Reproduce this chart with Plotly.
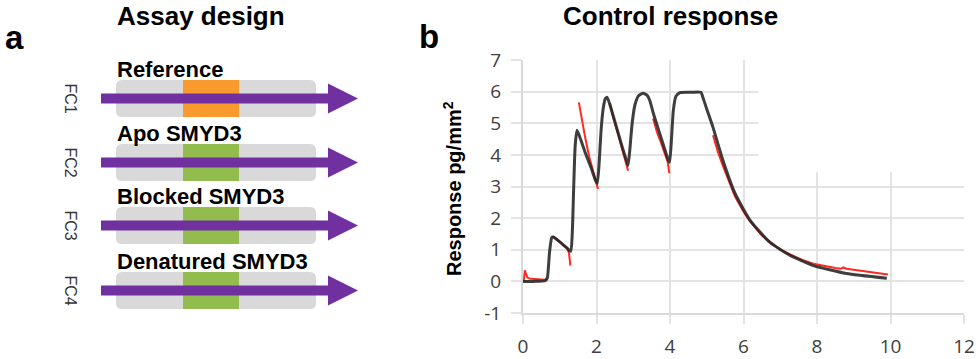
import plotly.graph_objects as go

# ---------------- data ----------------
# Panel b: fitted curve (black) - time (x) vs response (pg/mm^2)
fit_t = [0.00, 0.30, 0.60, 0.66, 0.72, 0.78, 0.82, 1.00, 1.20, 1.30, 1.34, 1.38, 1.42, 1.47,
         1.55, 1.70, 1.85, 1.97, 2.02, 2.07, 2.12, 2.18, 2.24, 2.29, 2.40, 2.55, 2.70, 2.82,
         2.86, 2.91, 2.97, 3.05, 3.15, 3.27, 3.38, 3.45, 3.55, 3.70, 3.85, 3.95, 3.99, 4.04,
         4.09, 4.16, 4.27, 4.60, 4.84, 4.90, 5.00, 5.17, 5.44, 5.77, 6.18, 6.72, 7.27, 7.90,
         8.80, 9.90]
fit_y = [0.00, 0.00, 0.02, 0.10, 0.90, 1.38, 1.40, 1.25, 1.05, 0.95, 1.50, 3.00, 4.30, 4.78,
         4.55, 4.05, 3.60, 3.20, 3.10, 3.70, 4.70, 5.45, 5.78, 5.82, 5.45, 4.85, 4.25, 3.80,
         3.67, 4.20, 5.00, 5.60, 5.88, 5.95, 5.88, 5.72, 5.30, 4.75, 4.20, 3.85, 3.77, 4.50,
         5.40, 5.85, 5.97, 5.98, 5.98, 5.80, 5.45, 4.87, 3.83, 2.78, 1.93, 1.23, 0.82, 0.50,
         0.25, 0.10]

# Panel b: measured response (red), gaps during injections
data_t = [0.02, 0.05, 0.08, 0.12, 0.20, 0.40, 0.60, 0.65, None,
          0.80, 0.90, 1.00, 1.10, 1.20, 1.25, 1.27, 1.29, None,
          1.52, 1.60, 1.70, 1.80, 1.90, 1.97, 2.02, 2.04, None,
          2.37, 2.45, 2.55, 2.65, 2.75, 2.82, 2.86, None,
          3.54, 3.65, 3.75, 3.85, 3.93, 3.96, 3.98, None,
          5.17, 5.30, 5.44, 5.60, 5.77, 6.00, 6.18, 6.50, 6.72, 7.00, 7.27, 7.60, 7.90,
          8.20, 8.50, 8.65, 8.72, 8.80, 9.20, 9.60, 9.93]
data_y = [0.00, 0.35, 0.25, 0.12, 0.08, 0.06, 0.05, 0.08, None,
          1.42, 1.35, 1.25, 1.15, 1.05, 0.90, 0.70, 0.50, None,
          5.66, 5.10, 4.50, 3.95, 3.50, 3.20, 3.00, 2.92, None,
          5.63, 5.20, 4.80, 4.40, 4.00, 3.72, 3.50, None,
          5.15, 4.70, 4.40, 4.05, 3.80, 3.60, 3.42, None,
          4.62, 4.10, 3.65, 3.15, 2.68, 2.20, 1.90, 1.45, 1.25, 1.00, 0.85, 0.68, 0.56,
          0.48, 0.42, 0.40, 0.44, 0.40, 0.33, 0.27, 0.22]

x_ticks = [0, 2, 4, 6, 8, 10, 12]
y_ticks = [-1, 0, 1, 2, 3, 4, 5, 6, 7]

# Panel a: assay design rows
flow_cells = ["FC1", "FC2", "FC3", "FC4"]
row_labels = ["Reference", "Apo SMYD3", "Blocked SMYD3", "Denatured SMYD3"]
block_colors = ["#f89a2e", "#92bd4e", "#92bd4e", "#92bd4e"]

# ---------------- styles / layout constants ----------------
W, H = 980, 359
GRID = "#e3e3e3"
TICKFONT = dict(family="Open Sans", size=19, color="#404040")
BOLD = "Liberation Sans"

row_tops = [80, 144, 207, 272]   # pixel layout of diagram rows
ROW_H = 37

fig = go.Figure()

fig.add_trace(go.Scatter(x=data_t, y=data_y, mode="lines",
                         line=dict(color="#ff2a1f", width=2),
                         connectgaps=False, showlegend=False, hoverinfo="skip"))
fig.add_trace(go.Scatter(x=fit_t, y=fit_y, mode="lines",
                         line=dict(color="rgba(35,35,35,0.88)", width=3,
                                   shape="spline", smoothing=0.5),
                         showlegend=False, hoverinfo="skip"))
# helper overlay axes in pixel units for the diagram
fig.add_trace(go.Scatter(x=[None], y=[None], xaxis="x2", yaxis="y2",
                         showlegend=False, hoverinfo="skip"))

shapes = []
# white mask over upper-right grid region (as in reference)
shapes.append(dict(type="rect", xref="x", yref="y", x0=6.4, x1=12.6, y0=3.45, y1=7.6,
                   fillcolor="white", line=dict(width=0), layer="between"))


def rrect(x0, y0, x1, y1, r):
    return (f"M {x0+r},{y0} L {x1-r},{y0} Q {x1},{y0} {x1},{y0+r} L {x1},{y1-r} "
            f"Q {x1},{y1} {x1-r},{y1} L {x0+r},{y1} Q {x0},{y1} {x0},{y1-r} "
            f"L {x0},{y0+r} Q {x0},{y0} {x0+r},{y0} Z")


annotations = []
for fc, lab, col, top in zip(flow_cells, row_labels, block_colors, row_tops):
    bot = top + ROW_H
    c = (top + bot) / 2
    shapes.append(dict(type="path", xref="x2", yref="y2", path=rrect(116, top, 316, bot, 6),
                       fillcolor="#d9d9d9", line=dict(width=0)))
    shapes.append(dict(type="rect", xref="x2", yref="y2", x0=183, x1=239, y0=top, y1=bot,
                       fillcolor=col, line=dict(width=0)))
    arrow = (f"M 101,{c-5} L 328,{c-5} L 328,{c-15} L 358,{c} L 328,{c+15} "
             f"L 328,{c+5} L 101,{c+5} Z")
    shapes.append(dict(type="path", xref="x2", yref="y2", path=arrow,
                       fillcolor="#7030a0", line=dict(width=0)))
    annotations.append(dict(xref="x2", yref="y2", x=115, y=top - 11, text=lab,
                            xanchor="left", yanchor="middle", showarrow=False,
                            font=dict(family=BOLD, size=22, color="black", weight="bold")))
    annotations.append(dict(xref="x2", yref="y2", x=70, y=c, text=fc, textangle=90,
                            xanchor="center", yanchor="middle", showarrow=False,
                            font=dict(family="Liberation Sans", size=16, color="#333333")))

annotations += [
    dict(xref="x2", yref="y2", x=201, y=16, text="Assay design", showarrow=False,
         xanchor="center", yanchor="middle",
         font=dict(family=BOLD, size=26, color="black", weight="bold")),
    dict(xref="x2", yref="y2", x=670, y=16, text="Control response", showarrow=False,
         xanchor="center", yanchor="middle",
         font=dict(family=BOLD, size=26, color="black", weight="bold")),
    dict(xref="x2", yref="y2", x=14, y=37, text="a", showarrow=False,
         xanchor="center", yanchor="middle",
         font=dict(family=BOLD, size=33, color="black", weight="bold")),
    dict(xref="x2", yref="y2", x=429, y=36, text="b", showarrow=False,
         xanchor="center", yanchor="middle",
         font=dict(family=BOLD, size=33, color="black", weight="bold")),
    dict(xref="x2", yref="y2", x=452, y=189, text="Response pg/mm<sup>2</sup>",
         textangle=-90, showarrow=False, xanchor="center", yanchor="middle",
         font=dict(family=BOLD, size=20, color="black", weight="bold")),
]

fig.update_layout(
    width=W, height=H, autosize=False,
    margin=dict(l=0, r=0, t=0, b=0, pad=0, autoexpand=False),
    paper_bgcolor="white", plot_bgcolor="rgba(0,0,0,0)",
    showlegend=False,
    xaxis=dict(domain=[523 / W, 964 / W], anchor="y", range=[0, 12], automargin=False,
               tickvals=x_ticks, ticktext=[str(v) for v in x_ticks],
               showgrid=True, gridcolor=GRID, gridwidth=2, zeroline=False,
               showline=True, linecolor="#dadada", linewidth=2,
               ticks="outside", ticklen=9, tickwidth=2, tickcolor=GRID,
               ticklabelstandoff=6, tickfont=TICKFONT),
    yaxis=dict(domain=[(H - 313) / H, (H - 60) / H], anchor="x", range=[-1, 7],
               automargin=False,
               tickvals=y_ticks, ticktext=[str(v) for v in y_ticks],
               showgrid=True, gridcolor=GRID, gridwidth=2, zeroline=False,
               showline=True, linecolor="#dadada", linewidth=2,
               ticks="outside", ticklen=10, tickwidth=2, tickcolor=GRID,
               ticklabelstandoff=6, tickfont=TICKFONT),
    xaxis2=dict(domain=[0, 1], anchor="y2", range=[0, W], visible=False, fixedrange=True,
                automargin=False),
    yaxis2=dict(domain=[0, 1], anchor="x2", range=[H, 0], visible=False, fixedrange=True,
                automargin=False),
    shapes=shapes,
    annotations=annotations,
)

fig.write_html("out.html", config={"displayModeBar": False},
               post_script="document.body.style.margin='0px';")
